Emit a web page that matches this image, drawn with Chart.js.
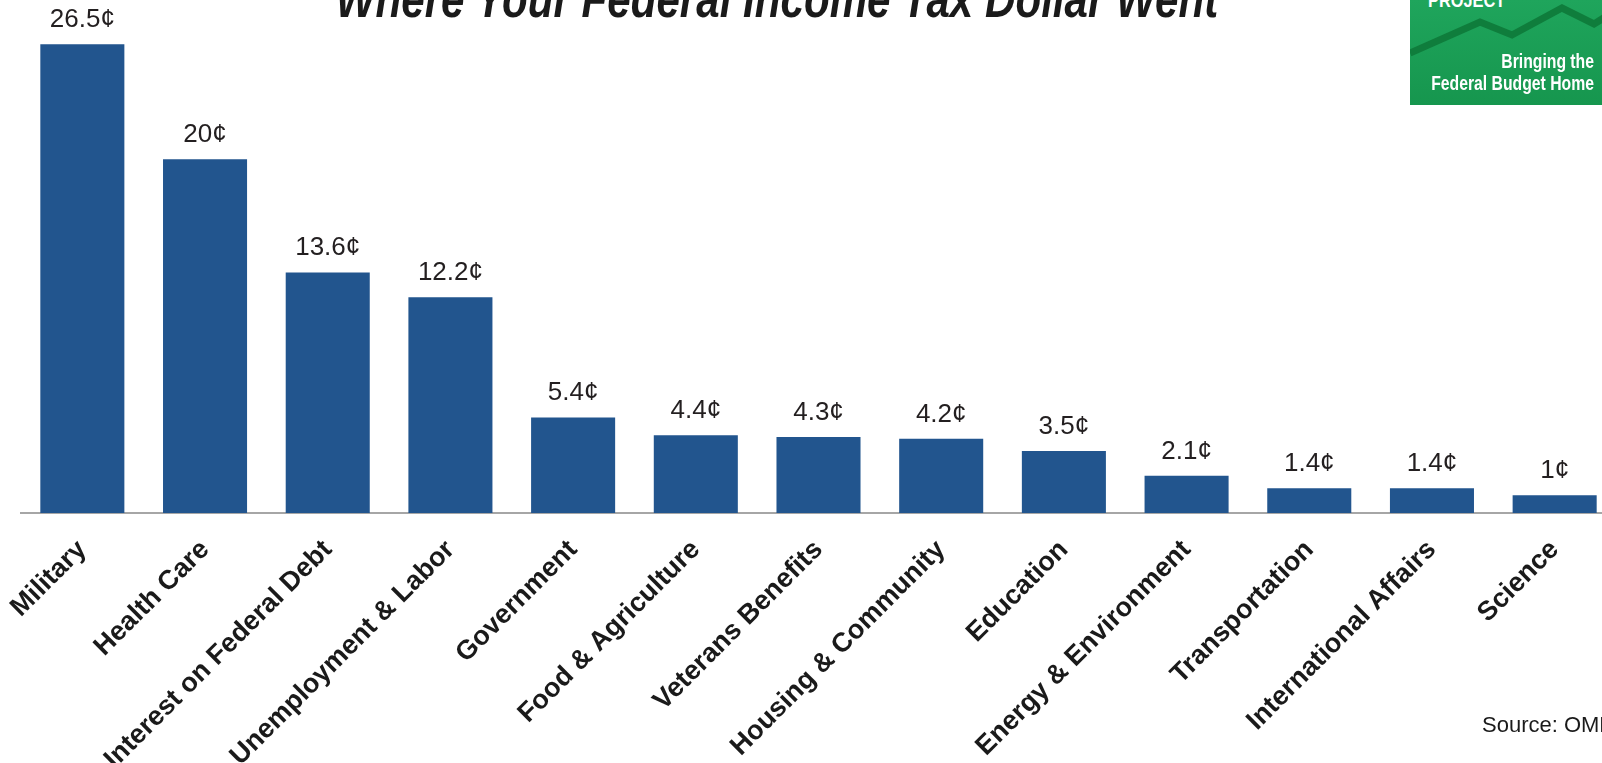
<!DOCTYPE html>
<html>
<head>
<meta charset="utf-8">
<script src="https://cdn.jsdelivr.net/npm/chart.js@4/dist/chart.umd.min.js"></script>
<style>
  html, body { margin: 0; padding: 0; background: #fff; overflow: hidden; width: 1602px; height: 763px; }
  #wrap { position: relative; width: 1602px; height: 763px; overflow: hidden; }
  canvas { position: absolute; left: 0; top: 0; }
  .txt { position: absolute; white-space: nowrap; line-height: 1; font-family: "Liberation Sans", Arial, sans-serif; }
  #title { left: 0; width: 1554px; top: -26px; text-align: center; font-size: 51px; font-weight: bold; font-style: italic; color: #1a1a1a; transform: scaleX(0.826); transform-origin: 777px 0; }
  #logo { position: absolute; left: 1410px; top: 0; width: 200px; height: 105px; background: linear-gradient(180deg, #1fa55c 0%, #16964e 100%); }
  #logo svg { position: absolute; left: 0; top: 0; }
  .logotxt { color: #fff; font-weight: bold; font-size: 21px; }
  #source { left: 1482px; top: 714px; font-size: 22px; color: #1a1a1a; }
</style>
</head>
<body>
<div id="wrap">
  <canvas id="chart" width="1620" height="763"></canvas>
  <div id="title" class="txt">Where Your Federal Income Tax Dollar Went</div>
  <div id="logo">
    <svg width="200" height="105">
      <polyline points="0,53 70,22 102,35 152,8 184,24 200,14" fill="none" stroke="#0f7d3c" stroke-width="7" stroke-linejoin="miter"/>
    </svg>
  </div>
  <div class="txt logotxt" style="left:1428px; top:-11px; transform:scaleX(0.78); transform-origin:0 0;">PROJECT</div>
  <div class="txt logotxt" style="left:0; width:1594px; top:50px; text-align:right; transform:scaleX(0.75); transform-origin:1594px 0;">Bringing the</div>
  <div class="txt logotxt" style="left:0; width:1594px; top:72px; text-align:right; transform:scaleX(0.75); transform-origin:1594px 0;">Federal Budget Home</div>
  <div id="source" class="txt">Source: OMB</div>
</div>
<script>
const categories = ['Military', 'Health Care', 'Interest on Federal Debt', 'Unemployment & Labor',
  'Government', 'Food & Agriculture', 'Veterans Benefits', 'Housing & Community', 'Education',
  'Energy & Environment', 'Transportation', 'International Affairs', 'Science'];
const cents = [26.5, 20, 13.6, 12.2, 5.4, 4.4, 4.3, 4.2, 3.5, 2.1, 1.4, 1.4, 1];

// value labels above each bar
const valueLabels = {
  id: 'valueLabels',
  afterDatasetsDraw(chart) {
    const ctx = chart.ctx;
    const meta = chart.getDatasetMeta(0);
    ctx.save();
    ctx.font = '26px "Liberation Sans", Arial, sans-serif';
    ctx.fillStyle = '#231f20';
    ctx.textAlign = 'center';
    ctx.textBaseline = 'alphabetic';
    meta.data.forEach(function(bar, i) {
      ctx.fillText(cents[i] + '\u00A2', bar.x, bar.y - 17);
    });
    ctx.restore();
  }
};

new Chart(document.getElementById('chart'), {
  type: 'bar',
  data: {
    labels: categories,
    datasets: [{
      data: cents,
      backgroundColor: '#22558e',
      borderWidth: 0,
      categoryPercentage: 1,
      barPercentage: 0.685
    }]
  },
  options: {
    responsive: false,
    animation: false,
    layout: { padding: { left: 21, right: 4, top: 0, bottom: 0 } },
    plugins: {
      legend: { display: false },
      tooltip: { enabled: false }
    },
    scales: {
      x: {
        grid: { display: false, drawTicks: false },
        border: { display: true, color: '#a6a6a6', width: 2 },
        ticks: {
          autoSkip: false,
          maxRotation: 45,
          minRotation: 45,
          padding: 21,
          color: '#1a1a1a',
          font: { family: '"Liberation Sans", Arial, sans-serif', size: 27, weight: 'bold' }
        },
        afterFit(scale) {
          scale.height = 250;
          scale.paddingLeft = 0;
          scale.paddingRight = 0;
        }
      },
      y: {
        display: false,
        min: 0,
        max: 29
      }
    }
  },
  plugins: [valueLabels]
});
</script>
</body>
</html>
